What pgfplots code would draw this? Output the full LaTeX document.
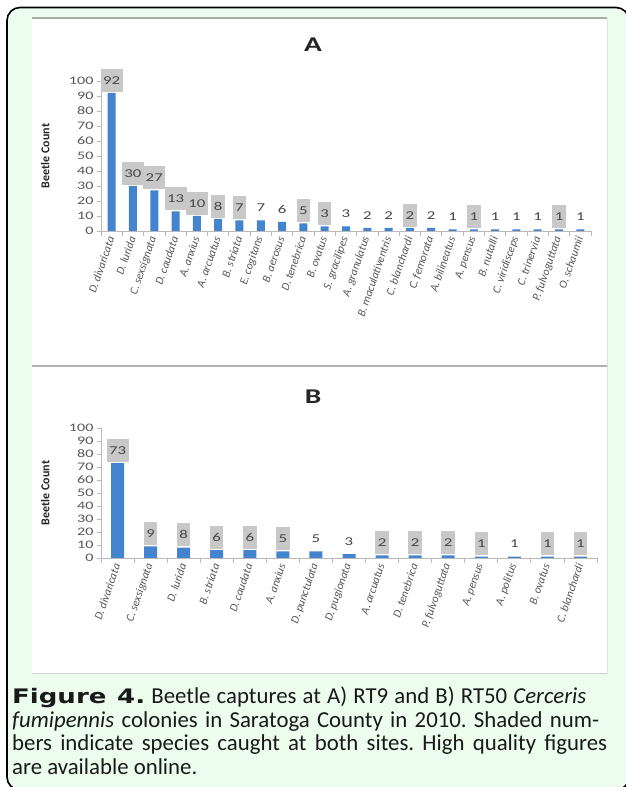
\documentclass[border=0pt]{standalone}
\usepackage{fontspec}
\setmainfont{Carlito}
\newfontfamily\chartfont[FakeStretch=1.4]{Carlito}
\newfontfamily\chartplain{Carlito}
\newfontfamily\capbold[FakeStretch=1.3]{DejaVu Sans}
\usepackage{pgfplots}
\pgfplotsset{compat=1.18}
\definecolor{bg}{RGB}{236,253,238}
\definecolor{barblue}{RGB}{68,132,206}
\definecolor{lblgray}{RGB}{200,200,200}
\definecolor{txtgray}{RGB}{88,88,88}
\definecolor{lbltxt}{RGB}{70,70,70}
\definecolor{axgray}{RGB}{185,185,185}

\pgfplotsset{
  beetle/.style={
    scale only axis, anchor=south west, clip=false,
    ymin=0, ymax=100, ytick={0,10,...,100},
    axis x line*=bottom, axis y line*=left,
    axis line style={-, draw=axgray, line width=0.8pt},
    tick align=outside,
    major tick length=4pt, minor tick length=5pt,
    tick style={draw=axgray, line width=0.8pt},
    /pgf/number format/assume math mode=true,
    yticklabel style={font=\chartfont\fontsize{11.5}{12}\selectfont, text=txtgray},
    xticklabel style={font=\chartplain\itshape\fontsize{11.5}{12}\selectfont, text=txtgray, rotate=71, anchor=east, inner sep=2pt},
    ylabel={Beetle Count},
    ylabel style={font=\chartplain\bfseries\fontsize{12}{12}\selectfont, text=black!85,
      at={(axis description cs:0,0.5)}, anchor=south, yshift=48pt},
  },
  lbl/.style={draw=none, mark=none, nodes near coords, point meta=y,
    every node near coord/.append style={font=\chartfont\fontsize{12}{12}\selectfont, text=lbltxt,
      fill=#1, inner xsep=2.5pt, minimum height=23pt, anchor=south, yshift=1pt}},
}

\begin{document}
\frenchspacing
\begin{tikzpicture}[x=1pt,y=1pt]
\useasboundingbox (0,0) rectangle (626,787);
\begin{scope}
\clip (0,0) rectangle (626,787);
\draw[line width=1.6pt, fill=bg, rounded corners=13pt] (7,-3) rectangle (629,779.5);
\end{scope}
% panels
\fill[white] (32,113) rectangle (607,769);
\draw[gray!25, line width=0.6pt] (607,113) -- (607,769);
\draw[gray!65, line width=1.3pt] (32,769) -- (607,769);
\draw[gray!60, line width=1.5pt] (32,421) -- (607,421);
\draw[gray!35, line width=1pt] (32,113) -- (607,113);
% titles
\node[font=\chartfont\bfseries\fontsize{21}{21}\selectfont, text=black!85] at (313,742) {A};
\node[font=\chartfont\bfseries\fontsize{21}{21}\selectfont, text=black!85] at (313,390) {B};

\begin{axis}[beetle,
  at={(101pt,556pt)}, width=490pt, height=150pt,
  xmin=-0.5, xmax=22.5,
  xtick={0,...,22},
  major x tick style={draw=none},
  minor xtick={-0.5,0.5,...,22.5},
  xticklabels={D. divaricata, D. lurida, C. sexsignata, D. caudata, A. anxius, A. arcuatus, B. striata, E. cogitans, B. aerosus, D. tenebrica, B. ovatus, S. gracilipes, A. granulatus, B. maculativentris, C. blanchardi, C. femorata, A. bilineatus, A. pensus, B. nutalli, C. viridisceps, C. trinervia, P. fulvoguttata, O. schaumii},
]
\addplot[ybar, bar width=8pt, fill=barblue, draw=none] coordinates {
(0,92) (1,30) (2,27) (3,13) (4,10) (5,8) (6,7) (7,7) (8,6) (9,5) (10,3) (11,3)
(12,2) (13,2) (14,2) (15,2) (16,1) (17,1) (18,1) (19,1) (20,1) (21,1) (22,1)};
\addplot[lbl=lblgray] coordinates {
(0,92) (1,30) (2,27) (3,13) (4,10) (5,8) (6,7) (9,5) (10,3) (14,2) (17,1) (21,1)};
\addplot[lbl=white] coordinates {
(7,7) (8,6) (11,3) (12,2) (13,2) (15,2) (16,1) (18,1) (19,1) (20,1) (22,1)};
\end{axis}

\begin{axis}[beetle,
  at={(101pt,229pt)}, width=496pt, height=130pt,
  xmin=-0.5, xmax=14.5,
  xtick={0,...,14},
  major x tick style={draw=none},
  minor xtick={-0.5,0.5,...,14.5},
  xticklabels={D. divaricata, C. sexsignata, D. lurida, B. striata, D. caudata, A. anxius, D. punctulata, D. pugionata, A. arcuatus, D. tenebrica, P. fulvoguttata, A. pensus, A. politus, B. ovatus, C. blanchardi},
]
\addplot[ybar, bar width=13pt, fill=barblue, draw=none] coordinates {
(0,73) (1,9) (2,8) (3,6) (4,6) (5,5) (6,5) (7,3) (8,2) (9,2) (10,2) (11,1) (12,1) (13,1) (14,1)};
\addplot[lbl=lblgray] coordinates {
(0,73) (1,9) (2,8) (3,6) (4,6) (5,5) (8,2) (9,2) (10,2) (11,1) (13,1) (14,1)};
\addplot[lbl=white] coordinates {
(6,5) (7,3) (12,1)};
\end{axis}

% caption
\begin{scope}[every node/.style={anchor=base west, inner sep=0pt, font=\fontsize{22.8}{24}\selectfont\frenchspacing, text=black!90}]
\node at (12,83) {\makebox[574pt][s]{{\capbold\bfseries\fontsize{20}{24}\selectfont Figure 4.} Beetle captures at A) RT9 and B) RT50 \textit{Cerceris}}};
\node at (12,59.5) {\makebox[587pt][s]{\textit{fumipennis} colonies in Saratoga County in 2010. Shaded num-}};
\node at (12,36) {\makebox[595pt][s]{bers indicate species caught at both sites. High quality figures}};
\node at (12,12.5) {are available online.};
\end{scope}
\end{tikzpicture}
\end{document}
